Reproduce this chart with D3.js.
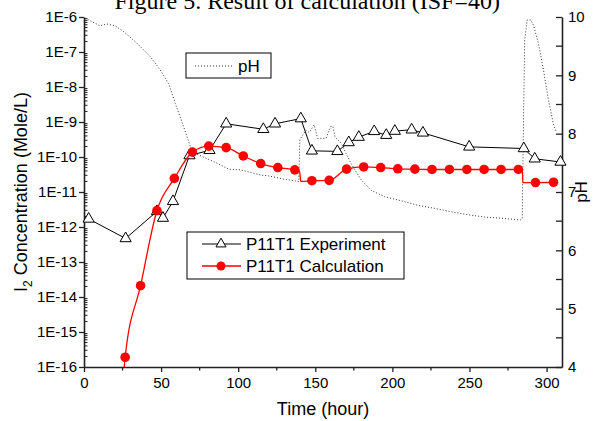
<!DOCTYPE html>
<html>
<head>
<meta charset="utf-8">
<script src="https://cdn.jsdelivr.net/npm/d3@7"></script>
<style>
    body { margin: 0; background: #fff; }
    svg { display: block; font-family: "Liberation Sans", Arial, sans-serif; }
</style>
</head>
<body>
<div id="chart"></div>
<script>
// experiment (triangles)
const expTime = [3, 27, 47.3, 51.2, 57.7, 68.4, 81.4, 92.2, 116.3, 123.9, 140.6, 147.8, 164.3, 171.7,
    178.2, 188.2, 196, 201.6, 212.5, 219.8, 249.8, 285.2, 292.3, 309];
const expConc = [1.7e-12, 4.7e-13, 2.8e-12, 1.8e-12, 5.4e-12, 1.1e-10, 1.55e-10, 8.9e-10, 6.2e-10, 8.9e-10,
    1.25e-9, 1.5e-10, 1.45e-10, 2.6e-10, 3.7e-10, 5.4e-10, 4.2e-10, 5.5e-10, 6.0e-10, 4.9e-10,
    1.95e-10, 1.75e-10, 8.9e-11, 7.2e-11];

// calculation (red dots)
const calcTime = [26.7, 36.7, 47.3, 58.6, 70.3, 80.9, 92.2, 103.3, 114.6, 125.7, 136.7, 147.8, 159,
    170.3, 181.4, 192.4, 203.5, 214.6, 225.7, 237, 248.3, 259.5, 270.5, 281.7, 292.8, 304.5];
const calcConc = [1.9e-16, 2.1e-14, 2.95e-12, 2.45e-11, 1.38e-10, 2.05e-10, 1.85e-10, 1.07e-10, 6.5e-11,
    5.0e-11, 4.3e-11, 2.1e-11, 2.15e-11, 4.5e-11, 5.2e-11, 5.0e-11, 4.6e-11, 4.5e-11, 4.4e-11,
    4.4e-11, 4.4e-11, 4.4e-11, 4.4e-11, 4.4e-11, 1.86e-11, 1.9e-11];
// extra vertices of the calculated curve (start below axis, the two drops)
const calcExtraTime = [25, 139.8, 140.6, 284.3, 284.6];
const calcExtraConc = [3e-17, 3.9e-11, 2.0e-11, 4.3e-11, 1.87e-11];

// pH (dotted, right axis)
const phTime = [0.7, 10.4, 14.8, 20.2, 25.6, 33.2, 43, 49.5, 54.9, 59.2, 64.6, 69, 72.3, 84.2, 93.9,
    101.6, 114.6, 118.9, 129.8, 139.3, 140, 143.9, 146, 149.3, 151.5, 156.9, 160.2, 161.5, 162.8,
    166.7, 170, 173.2, 179.7, 186.2, 194.9, 205.7, 216.6, 227.4, 238.3, 249.2, 260, 270.8, 283.2,
    284.2, 285.2, 285.8, 287.4, 289.7, 291.5, 294.7, 298, 301.2, 304.5, 306];
const phVal = [9.98, 9.85, 9.88, 9.85, 9.75, 9.58, 9.32, 9.09, 8.86, 8.52, 8.12, 7.78, 7.66, 7.52, 7.39,
    7.38, 7.29, 7.28, 7.22, 7.18, 7.9, 8.06, 8.02, 8.15, 7.92, 7.92, 8.13, 8.12, 7.94,
    7.84, 7.66, 7.49, 7.21, 7.03, 6.92, 6.85, 6.77, 6.72, 6.66, 6.61, 6.57, 6.55, 6.52,
    6.55, 8.5, 9.6, 9.95, 9.95, 9.86, 9.55, 9.09, 8.58, 8.15, 8.05];

const xMajor = [0, 50, 100, 150, 200, 250, 300];
const xMinor = [25, 75, 125, 175, 225, 275];
const yDecades = [1e-16, 1e-15, 1e-14, 1e-13, 1e-12, 1e-11, 1e-10, 1e-9, 1e-8, 1e-7, 1e-6];
const phMajor = [4, 5, 6, 7, 8, 9, 10];
const phMinor = [4.5, 5.5, 6.5, 7.5, 8.5, 9.5];

const width = 593, height = 421;
const plot = { left: 84, right: 562, top: 17, bottom: 367 };

const svg = d3.select("#chart").append("svg")
    .attr("width", width)
    .attr("height", height)
    .attr("viewBox", [0, 0, width, height]);

// scales
const x = d3.scaleLinear().domain([0, 310]).range([plot.left, plot.right]);
const yL = d3.scaleLog().domain([1e-16, 1e-6]).range([plot.bottom, plot.top]);
const yR = d3.scaleLinear().domain([4, 10]).range([plot.bottom, plot.top]);

svg.append("clipPath").attr("id", "clip")
    .append("rect")
    .attr("x", plot.left).attr("y", plot.top)
    .attr("width", plot.right - plot.left).attr("height", plot.bottom - plot.top);

// title, cut off at the top like the original
svg.append("text")
    .attr("x", 500).attr("y", 9)
    .attr("text-anchor", "end")
    .style("font-family", "'Liberation Serif', 'Times New Roman', serif")
    .style("font-size", "24px")
    .text("Figure 5. Result of calculation (ISF=40)");

// axes
function styleAxis(g) {
    g.selectAll("path.domain").attr("stroke", "#222").attr("stroke-width", 1.6);
    g.selectAll(".tick line").attr("stroke", "#222").attr("stroke-width", 1.3);
    g.selectAll(".tick text").attr("fill", "#000").style("font-size", "15px")
        .style("font-family", "'Liberation Sans', Arial, sans-serif");
}

const xAxis = svg.append("g")
    .attr("transform", `translate(0,${plot.bottom})`)
    .call(d3.axisBottom(x).tickValues(xMajor).tickSize(5).tickSizeOuter(0).tickPadding(5))
    .call(styleAxis);
xAxis.selectAll(".minor").data(xMinor).join("line")
    .attr("class", "minor")
    .attr("x1", d => x(d)).attr("x2", d => x(d))
    .attr("y1", 0).attr("y2", 3.5)
    .attr("stroke", "#222").attr("stroke-width", 1.3);

const yMinor = [];
yDecades.slice(0, -1).forEach(d => {
    for (let k = 2; k < 10; k++) yMinor.push(d * k);
});

const yAxis = svg.append("g")
    .attr("transform", `translate(${plot.left},0)`)
    .call(d3.axisLeft(yL).tickValues(yDecades).tickSize(5).tickSizeOuter(0).tickPadding(2)
        .tickFormat(d => "1E" + Math.round(Math.log10(d))))
    .call(styleAxis);
yAxis.selectAll(".minor").data(yMinor).join("line")
    .attr("class", "minor")
    .attr("x1", 0).attr("x2", 3.5)
    .attr("y1", d => yL(d)).attr("y2", d => yL(d))
    .attr("stroke", "#222").attr("stroke-width", 1);

const rAxis = svg.append("g")
    .attr("transform", `translate(${plot.right},0)`)
    .call(d3.axisRight(yR).tickValues(phMajor).tickSize(-6).tickSizeOuter(0).tickPadding(6)
        .tickFormat(d3.format("d")))
    .call(styleAxis);
rAxis.selectAll(".minor").data(phMinor).join("line")
    .attr("class", "minor")
    .attr("x1", 0).attr("x2", -6)
    .attr("y1", d => yR(d)).attr("y2", d => yR(d))
    .attr("stroke", "#222").attr("stroke-width", 1.3);

// axis titles
svg.append("text")
    .attr("x", (plot.left + plot.right) / 2).attr("y", 415)
    .attr("text-anchor", "middle")
    .style("font-size", "18px")
    .text("Time (hour)");

const yTitle = svg.append("text")
    .attr("transform", `translate(27,${(plot.top + plot.bottom) / 2}) rotate(-90)`)
    .attr("text-anchor", "middle")
    .style("font-size", "18px");
yTitle.append("tspan").text("I");
yTitle.append("tspan").attr("dy", 5).style("font-size", "12px").text("2");
yTitle.append("tspan").attr("dy", -5).text(" Concentration (Mole/L)");

svg.append("text")
    .attr("transform", `translate(587,${(plot.top + plot.bottom) / 2}) rotate(-90)`)
    .attr("text-anchor", "middle")
    .style("font-size", "17px")
    .text("pH");

// data layers
const layer = svg.append("g");

const phData = phTime.map((t, i) => [t, phVal[i]]);
layer.append("path")
    .datum(phData)
    .attr("clip-path", "url(#clip)")
    .attr("fill", "none")
    .attr("stroke", "#333")
    .attr("stroke-width", 1)
    .attr("stroke-dasharray", "1,2")
    .attr("d", d3.line().x(d => x(d[0])).y(d => yR(d[1])));

const expData = expTime.map((t, i) => [t, expConc[i]]);
layer.append("path")
    .datum(expData)
    .attr("fill", "none")
    .attr("stroke", "#000")
    .attr("stroke-width", 1)
    .attr("d", d3.line().x(d => x(d[0])).y(d => yL(d[1])));
layer.selectAll(".tri").data(expData).join("path")
    .attr("class", "tri")
    .attr("transform", d => `translate(${x(d[0])},${yL(d[1])})`)
    .attr("d", d3.symbol(d3.symbolTriangle, 54))
    .attr("fill", "#fff")
    .attr("stroke", "#000")
    .attr("stroke-width", 1);

const calcData = calcTime.map((t, i) => [t, calcConc[i]]);
const calcLine = d3.sort(calcData.concat(calcExtraTime.map((t, i) => [t, calcExtraConc[i]])), d => d[0]);
layer.append("path")
    .datum(calcLine)
    .attr("clip-path", "url(#clip)")
    .attr("fill", "none")
    .attr("stroke", "#ff0000")
    .attr("stroke-width", 1.3)
    .attr("d", d3.line().x(d => x(d[0])).y(d => yL(d[1])).curve(d3.curveMonotoneX));
layer.selectAll(".dot").data(calcData).join("circle")
    .attr("class", "dot")
    .attr("cx", d => x(d[0]))
    .attr("cy", d => yL(d[1]))
    .attr("r", 4.8)
    .attr("fill", "#ff0000");

// legend: pH
const leg1 = svg.append("g").attr("transform", "translate(186,53)");
leg1.append("rect").attr("width", 85).attr("height", 25)
    .attr("fill", "#fff").attr("stroke", "#000").attr("stroke-width", 1);
leg1.append("line").attr("x1", 9).attr("x2", 46).attr("y1", 13).attr("y2", 13)
    .attr("stroke", "#333").attr("stroke-dasharray", "1,2");
leg1.append("text").attr("x", 52).attr("y", 19).style("font-size", "17px").text("pH");

// legend: series
const leg2 = svg.append("g").attr("transform", "translate(187,232)");
leg2.append("rect").attr("width", 217).attr("height", 47)
    .attr("fill", "#fff").attr("stroke", "#000").attr("stroke-width", 1);
const legItems = [
    { label: "P11T1 Experiment", type: "exp" },
    { label: "P11T1 Calculation", type: "calc" }
];
legItems.forEach((item, i) => {
    const row = leg2.append("g").attr("transform", `translate(0,${12 + i * 22})`);
    row.append("line").attr("x1", 15).attr("x2", 54).attr("y1", 0).attr("y2", 0)
        .attr("stroke", item.type === "exp" ? "#000" : "#ff0000")
        .attr("stroke-width", item.type === "exp" ? 1 : 1.3);
    if (item.type === "exp") {
        row.append("path").attr("transform", "translate(34,0)")
            .attr("d", d3.symbol(d3.symbolTriangle, 44))
            .attr("fill", "#fff").attr("stroke", "#000");
    } else {
        row.append("circle").attr("cx", 34).attr("cy", 0).attr("r", 4.5).attr("fill", "#ff0000");
    }
    row.append("text").attr("x", 59).attr("y", 6).style("font-size", "17px").text(item.label);
});
</script>
</body>
</html>
